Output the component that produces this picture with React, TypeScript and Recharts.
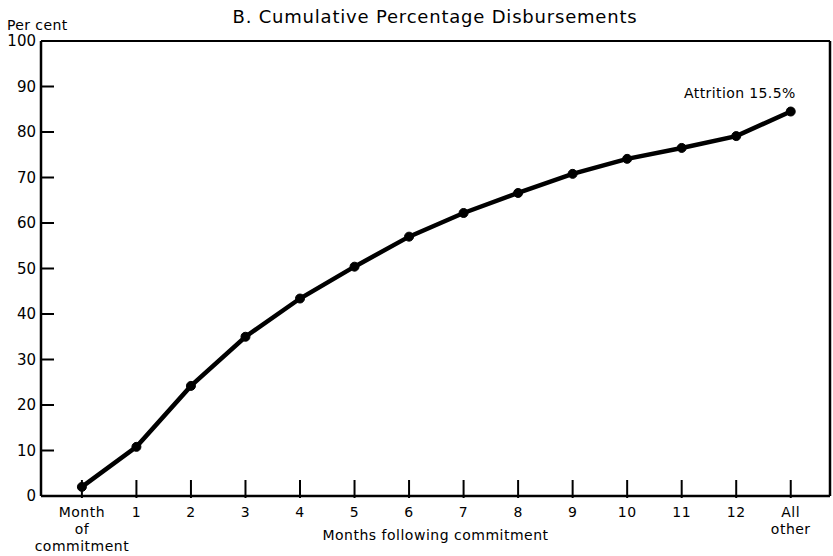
import { LineChart, Line, XAxis, YAxis, Label } from 'recharts';

const categories = ['Month of commitment', '1', '2', '3', '4', '5', '6', '7', '8', '9', '10', '11', '12', 'All other'];
const cumulative = [2.0, 10.8, 24.2, 35.0, 43.4, 50.4, 57.0, 62.2, 66.6, 70.8, 74.1, 76.5, 79.1, 84.5];
const yTicks = [0, 10, 20, 30, 40, 50, 60, 70, 80, 90, 100];
const innerTicks = [10, 20, 30, 40, 50, 60, 70, 80, 90];
const xTicks = categories.map((_, i) => i);

const FONT = '"DejaVu Sans", sans-serif';
const X_MIN = -0.75;
const X_MAX = 13.72;
const W = 833;
const H = 556;
const MARGIN = { top: 40, right: 2, bottom: 59, left: 40 };
// plot box (axes take 1px each)
const PLOT_TOP = MARGIN.top + 1;
const PLOT_H = H - MARGIN.top - MARGIN.bottom - 2;
const PLOT_LEFT = MARGIN.left + 1;

const data = categories.map((c, i) => ({ idx: i, name: c, value: cumulative[i] }));

function XTick(props: any) {
  const { x, y, payload } = props;
  const label = categories[payload.value] ?? '';
  const lines = label === 'Month of commitment' ? ['Month', 'of', 'commitment'] : label === 'All other' ? ['All', 'other'] : [label];
  return (
    <g>
      <line x1={x} y1={y} x2={x} y2={y - 18} stroke="#000" strokeWidth={2} />
      <text x={x} y={y} textAnchor="middle" fontFamily={FONT} fontSize={14} letterSpacing={0.5} fill="#000">
        {lines.map((l, i) => (
          <tspan key={i} x={x} dy={i === 0 ? 19 : 17}>{l}</tspan>
        ))}
      </text>
    </g>
  );
}

function YTickLeft(props: any) {
  const { x, y, payload } = props;
  return (
    <text x={Number(x) - 3} y={Number(y) + 5} textAnchor="end" fontFamily={FONT} fontSize={15} fill="#000">
      {payload.value}
    </text>
  );
}

function YTickRight(props: any) {
  const { x, y, payload } = props;
  const v = Number(payload.value);
  if (v === 0 || v === 100) return <g />;
  const ax = Number(x) - 2;
  return <path d={`M${ax},${y}H${ax - 12}`} stroke="#000" strokeWidth={2} fill="none" />;
}

function EndLabel(props: any) {
  const { x, y, index } = props;
  if (index !== cumulative.length - 1) return null;
  return (
    <text x={x + 5} y={y - 14} textAnchor="end" fontFamily={FONT} fontSize={14} letterSpacing={0.4} fill="#000">
      Attrition 15.5%
    </text>
  );
}

export default function App() {
  return (
    <div style={{ position: 'absolute', left: 0, top: 0, width: W, height: H, background: '#fff' }}>
      <LineChart width={W} height={H} data={data} margin={MARGIN}>
        <text x={435} y={23} textAnchor="middle" fontFamily={FONT} fontSize={18} letterSpacing={0.8} fill="#000">
          B.  Cumulative Percentage Disbursements
        </text>
        <text x={7} y={30} fontFamily={FONT} fontSize={14} letterSpacing={0.4} fill="#000">Per cent</text>
        <XAxis
          dataKey="idx"
          type="number"
          domain={[X_MIN, X_MAX]}
          ticks={xTicks}
          interval={0}
          height={1}
          tickSize={0}
          tickLine={false}
          axisLine={{ stroke: '#000', strokeWidth: 2.5 }}
          tick={<XTick />}
        >
          <Label value="Months following commitment" position="bottom" offset={33} fontFamily={FONT} fontSize={14} letterSpacing={0.5} fill="#000" />
        </XAxis>
        <XAxis xAxisId="top" orientation="top" dataKey="idx" type="number" domain={[X_MIN, X_MAX]} height={1} tick={false} tickLine={false} axisLine={{ stroke: '#000', strokeWidth: 2 }} />
        <YAxis
          domain={[0, 100]}
          ticks={yTicks}
          interval={0}
          width={1}
          tickSize={0}
          tickMargin={2}
          tickLine={false}
          axisLine={{ stroke: '#000', strokeWidth: 2.5 }}
          tick={<YTickLeft />}
        />
        <YAxis
          yAxisId="right"
          orientation="right"
          domain={[0, 100]}
          ticks={yTicks}
          interval={0}
          width={1}
          tickSize={0}
          tickMargin={2}
          tickLine={false}
          axisLine={{ stroke: '#000', strokeWidth: 2.5 }}
          tick={<YTickRight />}
        />
        <Line
          dataKey="value"
          stroke="#000"
          strokeWidth={4.5}
          dot={{ r: 4.5, fill: '#000', stroke: '#000', strokeWidth: 1 }}
          activeDot={false}
          isAnimationActive={false}
          label={<EndLabel />}
        />
      </LineChart>
      {/* inward tick marks on the left axis, laid over the chart */}
      <svg width={W} height={H} style={{ position: 'absolute', left: 0, top: 0, pointerEvents: 'none' }}>
        {innerTicks.map((v) => {
          const y = PLOT_TOP + (1 - v / 100) * PLOT_H;
          return <path key={v} d={`M${PLOT_LEFT},${y}H${PLOT_LEFT + 13}`} stroke="#000" strokeWidth={2} fill="none" />;
        })}
      </svg>
    </div>
  );
}
